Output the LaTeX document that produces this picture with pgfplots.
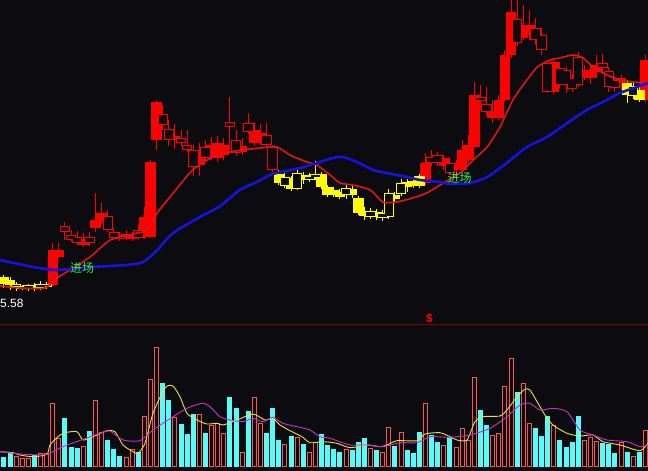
\documentclass[border=0pt]{standalone}
\usepackage{pgfplots}
\pgfplotsset{compat=1.18}
\usepackage{pgfplotstable}
\usepackage{fontspec}
\setmainfont{Liberation Sans}
\newfontfamily\cjk{Noto Sans CJK SC}

\definecolor{bg}{RGB}{12,12,16}
\definecolor{cred}{RGB}{255,0,0}
\definecolor{cyel}{RGB}{255,255,0}
\definecolor{mared}{RGB}{228,20,20}
\definecolor{mablue}{RGB}{20,20,225}
\definecolor{vcyan}{RGB}{84,252,252}
\definecolor{vred}{RGB}{255,84,76}
\definecolor{vyel}{RGB}{235,225,60}
\definecolor{vmag}{RGB}{205,45,205}
\definecolor{sep}{RGB}{128,0,0}
\definecolor{jcgreen}{RGB}{60,240,60}

\pgfplotsset{
  seg/.style 2 args={draw=#1, line width=#2, line cap=butt, mark=none},
}

% candles: i index, a/b body ends, h high, l low (pixel rows, top = 0)
% red filled
\pgfplotstableread{
i a b h l
8 250 285 243 286
9 250 257 243 258
13 239 245 233 247
15 220 228 193 232
16 213 222 203 224
20 234 238 230 240
21 235 239 232 241
23 217 237 207 239
24 162 237 160 238
25 102 140 100 150
28 136 140 124 149
32 150 165 143 176
34 145 156 137 160
35 143 158 136 162
36 145 155 138 160
39 146 152 138 155
41 130 143 122 146
42 133 143 124 145
69 163 183 153 185
72 158 166 155 170
74 163 170 160 172
75 150 170 140 172
76 145 160 135 162
77 95 147 82 148
80 112 118 100 123
81 100 118 95 120
82 55 100 50 102
83 12 55 0 58
85 25 38 5 40
86 25 35 10 40
90 62 92 58 94
95 70 78 65 80
96 72 78 66 84
97 65 72 55 78
101 78 83 75 90
105 60 100 55 102
}\crf
% red hollow
\pgfplotstableread{
i a b h l
10 226 232 222 240
11 235 240 230 242
12 237 243 231 245
14 237 243 232 246
17 216 230 210 232
18 232 238 228 240
19 235 239 232 241
22 230 238 225 240
26 114 125 105 130
27 129 140 120 146
29 138 143 130 146
30 145 150 130 152
31 150 167 145 176
33 147 158 140 162
37 122 127 97 150
38 140 153 130 156
40 123 132 113 134
43 135 145 123 147
44 147 170 145 172
70 157 163 150 166
71 155 163 152 166
73 163 173 157 175
78 97 101 85 110
79 104 112 87 115
84 19 43 0 46
87 28 40 18 45
88 35 50 28 55
89 63 92 60 93
91 68 85 62 88
92 70 85 67 93
93 78 89 74 92
94 57 85 52 87
98 63 68 54 72
99 71 87 67 92
100 80 88 76 92
}\crh
% yellow filled
\pgfplotstableread{
i a b h l
0 277 284 275 288
1 280 285 277 290
5 285 289 283 291
45 174 183 170 185
47 178 189 176 191
49 175 180 172 184
52 174 187 172 189
53 187 195 185 197
54 190 195 187 197
55 192 197 189 199
57 189 195 186 198
58 198 213 196 215
59 211 216 207 220
61 212 217 209 220
64 195 199 192 202
66 182 187 179 192
67 181 186 178 188
68 176 186 174 188
102 83 95 80 103
104 90 100 87 102
}\cyf
% yellow hollow
\pgfplotstableread{
i a b h l
2 284 287 282 291
3 286 289 285 290
4 285 289 284 291
6 284 288 281 290
7 284 287 282 289
46 177 186 173 188
48 173 189 168 190
50 176 180 173 182
51 174 178 161 180
56 188 195 185 199
60 211 217 208 219
62 213 218 210 221
63 193 217 189 219
65 183 194 179 196
103 86 96 82 99
}\cyh

% volume: v = top of bar (pixel row)
\pgfplotstableread{
i v
2 456
3 458.3
4 458.3
6 452.7
7 452.7
8 403.3
9 438.3
13 446
15 400
16 431.7
20 456.7
21 449.3
23 416
24 379.3
25 347.3
28 416.7
32 414
34 425
35 423
36 433.3
39 452.3
41 396.7
42 422.7
46 444.3
48 437.3
50 451.7
51 442.3
56 449.3
60 448.3
62 452.3
63 427.3
65 431.7
69 403.3
72 445
74 446.7
75 428.3
76 440
77 377.3
80 435
81 433.3
82 386
83 358.3
85 383.3
86 423.3
90 425
95 440
96 436.7
97 441
101 442.3
103 456
105 430
}\volred
\pgfplotstableread{
i v
0 456.7
1 452.7
5 455
10 417.7
11 446.7
12 448.3
14 430.7
17 440
18 449
19 456
22 451.7
26 382.7
27 400
29 424
30 434
31 414
33 432.7
37 397.3
38 408.3
40 411
43 433.3
44 408.3
45 440
47 436
49 444
52 434
53 445
54 449.3
55 452.3
57 450
58 442.3
59 438.3
61 450
64 446
66 450
67 452.7
68 432.3
70 435
71 441.7
73 437.3
78 410
79 425
84 391.7
87 427.7
88 436
89 416
91 440
92 446.7
93 441.7
94 416
98 443.3
99 444
100 452.7
102 451.7
104 451.7
}\volcyan

\begin{document}
\begin{tikzpicture}
\fill[bg] (0,0) rectangle (648bp,471bp);

% ---------------- price panel ----------------
\begin{axis}[at={(0,146bp)}, anchor=south west, width=648bp, height=325bp,
  scale only axis, hide axis, xmin=-0.638, xmax=105.42, ymin=0, ymax=325,
  y dir=reverse, clip=true]
\addplot[sep, line width=1bp] coordinates {(-0.7,324.5) (105.5,324.5)};
% wicks
\addplot[seg={cred}{1bp}, quiver={u=0, v=\thisrow{l}-\thisrow{h}}] table[x=i, y=h] \crf;
\addplot[seg={cred}{1bp}, quiver={u=0, v=\thisrow{l}-\thisrow{h}}] table[x=i, y=h] \crh;
\addplot[seg={cyel}{1bp}, quiver={u=0, v=\thisrow{l}-\thisrow{h}}] table[x=i, y=h] \cyf;
\addplot[seg={cyel}{1bp}, quiver={u=0, v=\thisrow{l}-\thisrow{h}}] table[x=i, y=h] \cyh;
% filled bodies
\addplot[seg={cred}{10.5bp}, quiver={u=0, v={max(\thisrow{b}-\thisrow{a},1.3)}}] table[x=i, y=a] \crf;
\addplot[seg={cyel}{10.5bp}, quiver={u=0, v={max(\thisrow{b}-\thisrow{a},1.3)}}] table[x=i, y=a] \cyf;
% hollow bodies
\addplot[seg={cred}{10.5bp}, quiver={u=0, v={max(\thisrow{b}-\thisrow{a},1.3)}}] table[x=i, y=a] \crh;
\addplot[seg={bg}{8.5bp}, quiver={u=0, v={max(\thisrow{b}-\thisrow{a}-2,0.01)}}] table[x=i, y expr={\thisrow{a}+1}] \crh;
\addplot[seg={cyel}{10.5bp}, quiver={u=0, v={max(\thisrow{b}-\thisrow{a},1.3)}}] table[x=i, y=a] \cyh;
\addplot[seg={bg}{8.5bp}, quiver={u=0, v={max(\thisrow{b}-\thisrow{a}-2,0.01)}}] table[x=i, y expr={\thisrow{a}+1}] \cyh;
% moving averages
\addplot[mared, line width=1.6bp, smooth, tension=0.4] coordinates {
(-0.64,286) (2.6,288) (6.7,288) (8.7,278) (10.8,270) (14.1,257) (17.4,240)
(21.1,234) (23.4,230) (25.1,213) (27.7,193) (30.9,170) (34.2,157) (37.0,152)
(39.1,150) (41.9,148) (44.7,147) (46.8,155) (49.6,162) (51.2,165) (53.4,175)
(55.0,183) (57.1,185) (60.0,190) (62.0,202) (64.3,202) (66.9,198) (69.2,193)
(71.4,185) (74.6,173) (76.8,160) (79.1,147) (81.2,127) (83.3,100) (85.6,80)
(87.3,67) (89.4,60) (91.0,58) (93.1,55) (94.8,58) (96.4,67) (98.7,75)
(100.8,80) (103.0,82) (105.4,83)};
\addplot[mablue, line width=2.6bp, smooth, tension=0.4] coordinates {
(-0.64,260) (4.8,267) (8.7,270) (14.1,267) (20.1,265) (22.8,262) (25.1,250)
(27.7,233) (32.1,217) (35.4,206) (38.6,190) (41.4,182) (44.0,174) (48.5,168)
(51.2,163) (53.9,158) (55.5,157) (57.8,162) (60.4,170) (62.7,173) (66.0,177)
(68.1,180) (71.4,182) (73.0,184) (76.3,183) (79.1,177) (82.3,163) (85.6,147)
(88.9,137) (92.2,123) (95.4,110) (98.7,100) (100.8,93) (103.6,87) (105.4,83)};
% labels
\node[text=white, anchor=west, inner sep=0pt, font=\fontsize{12}{12}\selectfont] at (axis cs:-0.638,303) {5.58};
\node[text=jcgreen, inner sep=0pt, font=\cjk\fontsize{12}{12}\selectfont] at (axis cs:12.8,268.5) {进场};
\node[text=jcgreen, inner sep=0pt, font=\cjk\fontsize{12}{12}\selectfont] at (axis cs:74.6,178.5) {进场};
\node[text=cred, inner sep=0pt, font=\bfseries\fontsize{12}{12}\selectfont] at (axis cs:69.66,318.5) {\$};
\end{axis}

% ---------------- volume panel ----------------
\begin{axis}[at={(0,0)}, anchor=south west, width=648bp, height=146bp,
  scale only axis, hide axis, xmin=-0.638, xmax=105.42, ymin=325, ymax=471,
  y dir=reverse, clip=true]
\addplot[seg={vcyan}{5bp}, quiver={u=0, v=467-\thisrow{v}}] table[x=i, y=v] \volcyan;
\addplot[seg={vred}{5bp}, quiver={u=0, v=467-\thisrow{v}}] table[x=i, y=v] \volred;
\addplot[seg={bg}{3bp}, quiver={u=0, v=465-\thisrow{v}}] table[x=i, y expr={\thisrow{v}+1}] \volred;
\addplot[vyel, line width=0.9bp, smooth, tension=0.4] coordinates {
(-0.64,451.7) (1.49,452.7) (2.64,455) (4.76,456.7) (7.05,454.3) (7.54,445)
(8.85,436.7) (10.0,432.7) (11.96,431.7) (12.95,440) (14.58,436.7) (16.87,430.7)
(18.18,431.7) (19.49,445) (21.13,451.7) (21.95,453.3) (23.09,443.3) (24.4,413.3)
(25.88,393.3) (26.69,386) (27.68,386) (28.82,396.7) (29.97,413.3) (31.6,420)
(33.24,424) (34.88,423.3) (35.86,425) (38.15,420) (40.77,414) (42.73,420)
(44.04,418.3) (45.19,425) (46.82,430.7) (48.79,436.7) (50.1,442.7) (52.23,441.7)
(54.52,443.3) (56.64,447.7) (59.42,445) (61.55,446.7) (62.7,445) (64.33,440.7)
(67.61,440.7) (68.92,434) (71.37,432.7) (73.01,436.7) (74.16,440) (75.79,440)
(77.1,421.7) (78.41,416.7) (81.19,416) (82.34,410) (83.98,396.7) (85.29,389.3)
(86.1,390) (87.42,403.3) (88.56,415) (89.87,425) (92.16,433.3) (94.29,436)
(96.42,435) (98.05,441.7) (100.83,445) (104.1,450.7) (105.42,443.3)};
\addplot[vmag, line width=0.9bp, smooth, tension=0.4] coordinates {
(-0.64,451.7) (2.64,454) (5.91,455) (7.22,454) (9.67,446.7) (12.95,439.3)
(15.73,433.3) (17.36,431) (19.49,440) (22.27,440.7) (24.4,430) (27.68,416.7)
(29.97,408.3) (32.42,403.3) (33.73,406.7) (35.37,416.7) (37.0,420) (39.13,421.7)
(40.77,418.3) (42.4,421.7) (44.04,417.3) (45.68,423.3) (47.97,426.7) (50.1,430)
(51.73,436.7) (53.37,438.3) (56.64,445) (59.42,445) (62.04,446.7) (64.83,442.7)
(67.61,442.7) (69.74,436.7) (73.01,437.3) (76.28,435) (79.56,428.3) (82.34,416.7)
(84.47,405) (86.1,403.3) (87.74,410) (89.87,408.3) (92.16,411.7) (94.29,430)
(96.42,435) (98.7,440) (101.98,441.7) (104.1,446.7) (105.42,445)};
\end{axis}
\end{tikzpicture}
\end{document}
